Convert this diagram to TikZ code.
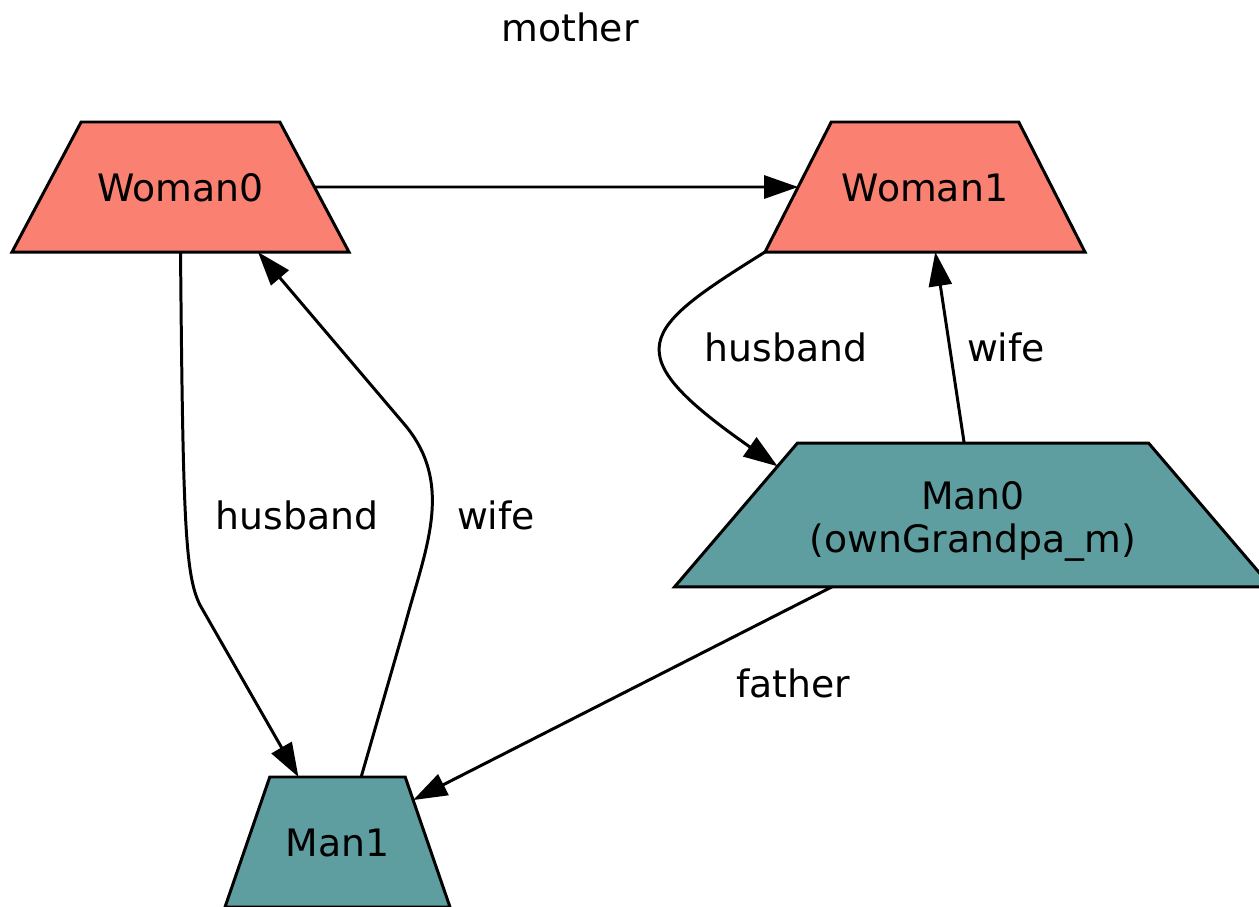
\documentclass[tikz,border=0pt]{standalone}
\usepackage{fontspec}
\setmainfont{DejaVu Sans}
\usepackage{tikz}
\usetikzlibrary{calc,shapes.geometric,arrows.meta}
\definecolor{womancolor}{RGB}{250,128,114}
\definecolor{mancolor}{RGB}{95,158,160}
\newcommand{\thickness}{1.7pt}
\newcommand{\textsize}{\fontsize{21.5}{24.5}\selectfont}

\begin{document}
\begin{tikzpicture}[x=0.02cm, y=-0.02cm,
  box/.style={draw, line width=\thickness, trapezium, trapezium stretches body, inner xsep=0pt, outer sep=0pt, font=\textsize},
  oneline/.style={text height=16pt, text depth=0pt, inner ysep=29pt},
  woman/.style={box, oneline, fill=womancolor},
  man/.style={box, fill=mancolor},
  link/.style={line width=\thickness, -{Triangle[length=0.68cm, width=0.46cm]}},
  lbl/.style={font=\textsize}]
\useasboundingbox (0,0) rectangle (1259,907);
%women
\node[woman] (w0) at (180.5, 187) [minimum width=6.74cm, trapezium angle=62] {Woman0};
\node[woman] (w1) at (925, 187) [minimum width=6.4cm, trapezium angle=63] {Woman1};
%men
\node[man] (m0) at (973, 515) [minimum width=11.94cm, inner ysep=12.26pt, trapezium angle=49.5] {\begin{tabular}{c}\rule{0pt}{25.5pt}Man0\\(ownGrandpa\_m)\end{tabular}};
\node[man, oneline] (m1) at (337.5, 842) [minimum width=4.5cm, trapezium angle=71] {Man1};
%edges
\draw[link] (w0.east) -- (w1.west) node[lbl] at (570, 27) {mother};
\draw[link] (w0.south) .. controls (183, 520) and (185, 575) .. (200, 605) -- (m1.121) node[lbl] at (297, 515) {husband};
\draw[link] (m1.70) -- (405, 625) .. controls (425, 550) and (455, 485) .. (405, 425) -- (w0.320) node[lbl] at (496, 515) {wife};
\draw[link] (w1.bottom left corner) .. controls (640, 330) and (614, 352) .. (m0.166) node[lbl] at (786, 347) {husband};
\draw[link] (m0.97) -- (w1.279) node[lbl] at (1006, 347) {wife};
\draw[link] (m0.207) -- (m1.29) node[lbl] at (793, 683) {father};
\end{tikzpicture}
\end{document}
